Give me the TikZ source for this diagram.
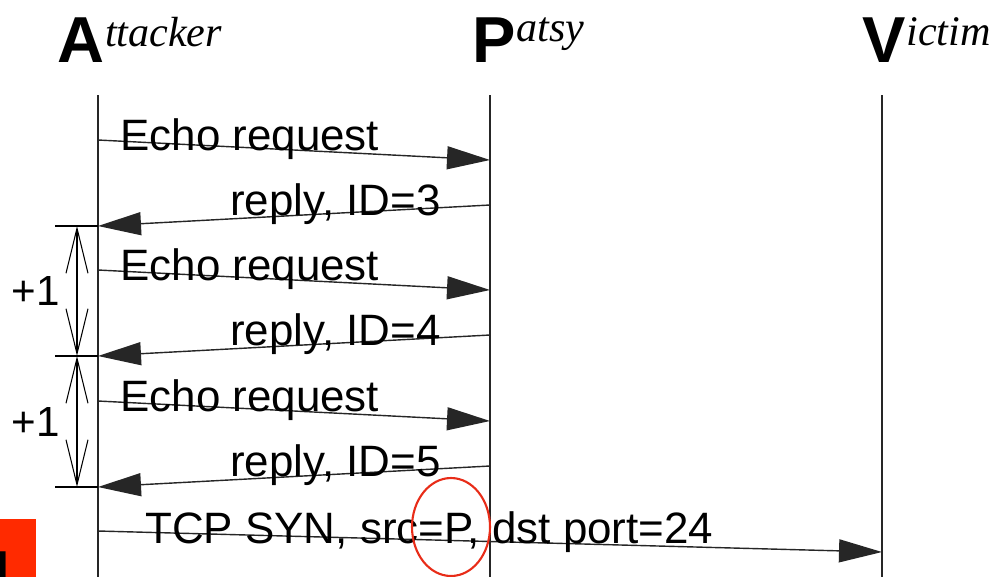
\documentclass[tikz,border=0pt]{standalone}
\usepackage{fontspec}
\setmainfont{Liberation Sans}
\newfontfamily\headserif{Liberation Serif}
\usetikzlibrary{positioning,arrows.meta,calc,shapes.geometric}
\definecolor{markred}{RGB}{232,44,24}
\definecolor{tagred}{RGB}{255,42,0}

\begin{document}
\begin{tikzpicture}[x=0.02cm,y=-0.02cm,
  >={Triangle[length=0.86cm,width=0.46cm]},
  life/.style={line width=0.9pt,black!85},
  msg/.style={->,line width=0.8pt,black!85},
  lbl/.style={anchor=base west,inner sep=0pt,font=\fontsize{25}{30}\selectfont},
  big/.style={anchor=base west,inner sep=0pt,font=\fontsize{37}{40}\selectfont\bfseries},
  rest/.style={anchor=north west,inner sep=0pt,font=\fontsize{24}{28}\selectfont\headserif\itshape},
  span/.style={{Straight Barb[length=0.9cm,width=0.44cm]}-{Straight Barb[length=0.9cm,width=0.44cm]},line width=0.6pt}]
\useasboundingbox (0,0) rectangle (997,576);

% actors
\node[big] (A) at (57,62) {A};
\node[rest] (Arest) at (A.north east) {ttacker};
\node[big] (P) at (472,62) {P};
\node[rest] (Prest) at (P.north east) {atsy};
\node[big] (V) at (862,62) {V};
\node[rest] (Vrest) at (V.north east) {ictim};

\foreach \n/\x in {A/98,P/490,V/882}{
  \coordinate (top\n) at (\x,95);
  \coordinate (bot\n) at (\x,580);
  \draw[life] (top\n) -- (bot\n);
}

% echo requests and replies
\foreach \y/\id in {140/3,270/4,401/5}{
  \coordinate (req\id) at (98,\y);
  \coordinate (hit\id) at (490,\y+20);
  \coordinate (rep\id) at (490,\y+65);
  \coordinate (ret\id) at (98,\y+86);
  \coordinate (end\id) at (55,\y+86);
  \coordinate (mark\id) at (77,\y+86);
  \draw[msg] (req\id) -- (hit\id);
  \draw[msg] (rep\id) -- (ret\id);
  \draw[line width=0.8pt] (ret\id) -- (end\id);
  \node[lbl] (echo\id) at (120,\y+10) {Echo request};
  \node[lbl] (reply\id) at (230,\y+75) {reply, ID=\id};
}

\draw[span] (mark3) -- (mark4) node[midway,left=0.34cm,inner sep=0pt,font=\fontsize{24}{30}\selectfont] (inc1) {+1};
\draw[span] (mark4) -- (mark5) node[midway,left=0.34cm,inner sep=0pt,font=\fontsize{24}{30}\selectfont] (inc2) {+1};

% spoofed syn
\coordinate (syn) at (98,531);
\coordinate (synhit) at (882,552);
\draw[msg] (syn) -- (synhit);
\node[lbl] (tcp) at (145,543) {TCP SYN, src=P, dst port=24};

\node[ellipse,draw=markred,line width=1.2pt,minimum width=1.56cm,minimum height=1.96cm] (spot) at (451,527) {};

\fill[tagred] (0,519) rectangle (36,580);
\node[anchor=base east,inner sep=0pt,font=\fontsize{37}{40}\selectfont\bfseries] (tagN) at (11,596) {N};
\end{tikzpicture}
\end{document}
